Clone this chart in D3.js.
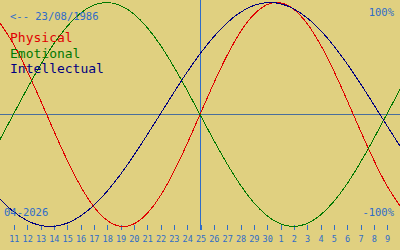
<!DOCTYPE html>
<html>
<head>
<meta charset="utf-8">
<script src="https://cdn.jsdelivr.net/npm/d3@7"></script>
<style>
  body { margin: 0; background: #e0d080; }
  svg { display: block; }
  text { font-family: "DejaVu Sans Mono", monospace; }
</style>
</head>
<body>
<svg id="chart" width="400" height="250"></svg>
<script>
/* Biorhythm view: one month around the selected day (25/04/2026).
   Values are per day, from 15 days before to 15 days after the centre. */

const WIDTH = 400;
const HEIGHT = 250;

const birthLabel = '<-- 23/08/1986';
const monthLabel = '04-2026';

// day offsets relative to the centre date
const dayOffsets = d3.range(-15, 16);

// day-of-month labels for the ticks at offsets -14 .. 14
const tickLabels = ['11', '12', '13', '14', '15', '16', '17', '18', '19', '20',
  '21', '22', '23', '24', '25', '26', '27', '28', '29', '30',
  '1', '2', '3', '4', '5', '6', '7', '8', '9'];

const physical = [0.817, 0.631, 0.398, 0.136, -0.136, -0.398, -0.631, -0.817,
  -0.942, -0.998, -0.979, -0.888, -0.731, -0.520, -0.270, 0,
  0.270, 0.520, 0.731, 0.888, 0.979, 0.998, 0.942, 0.817,
  0.631, 0.398, 0.136, -0.136, -0.398, -0.631, -0.817];

const emotional = [-0.223, 0, 0.223, 0.434, 0.624, 0.782, 0.901, 0.975,
  1, 0.975, 0.901, 0.782, 0.624, 0.434, 0.223, 0,
  -0.223, -0.434, -0.624, -0.782, -0.901, -0.975, -1, -0.975,
  -0.901, -0.782, -0.624, -0.434, -0.223, 0, 0.223];

const intellectual = [-0.756, -0.866, -0.945, -0.990, -0.999, -0.972, -0.910, -0.815,
  -0.690, -0.541, -0.372, -0.189, 0, 0.189, 0.372, 0.541,
  0.690, 0.815, 0.910, 0.972, 0.999, 0.990, 0.945, 0.866,
  0.756, 0.618, 0.458, 0.282, 0.095, -0.095, -0.282];

const seriesNames = ['Physical', 'Emotional', 'Intellectual'];
const seriesValues = [physical, emotional, intellectual];

const colors = {
  background: '#e0d080',
  axis: '#2f6cc8',
  midline: '#4a6e9c',
  series: ['#e00000', '#007800', '#000080'],
};

const svg = d3.select('#chart');

svg.append('rect')
  .attr('width', WIDTH)
  .attr('height', HEIGHT)
  .attr('fill', colors.background);

const x = d3.scaleLinear().domain([-15, 15]).range([0, WIDTH]);
const y = d3.scaleLinear().domain([-1, 1]).range([226.5, 2.5]);

// horizontal zero line and the vertical "today" line
svg.append('line')
  .attr('x1', 0).attr('x2', WIDTH)
  .attr('y1', y(0)).attr('y2', y(0))
  .attr('stroke', colors.midline)
  .attr('shape-rendering', 'crispEdges');

svg.append('line')
  .attr('x1', x(0) + 0.5).attr('x2', x(0) + 0.5)
  .attr('y1', 0).attr('y2', 230)
  .attr('stroke', colors.axis)
  .attr('shape-rendering', 'crispEdges');

// day ticks along the bottom
const tickOffsets = d3.range(-14, 15);
const axis = d3.axisBottom(x)
  .tickValues(tickOffsets)
  .tickFormat((d, i) => tickLabels[i])
  .tickSize(5)
  .tickPadding(6);

const axisG = svg.append('g')
  .attr('transform', 'translate(0.5,225)')
  .call(axis);
axisG.select('.domain').remove();
axisG.selectAll('line')
  .attr('stroke', colors.axis)
  .attr('shape-rendering', 'crispEdges');
axisG.selectAll('text')
  .attr('fill', colors.axis)
  .attr('font-size', 8.5)
  .attr('font-family', '"DejaVu Sans Mono", monospace');

// the three curves
const line = d3.line()
  .x((d, i) => x(dayOffsets[i]))
  .y((d) => y(d))
  .curve(d3.curveNatural);

svg.selectAll('path.curve')
  .data(seriesValues)
  .join('path')
  .attr('class', 'curve')
  .attr('d', line)
  .attr('fill', 'none')
  .attr('stroke', (d, i) => colors.series[i])
  .attr('stroke-width', 1)
  .attr('shape-rendering', 'crispEdges');

// labels
svg.append('text')
  .attr('x', 10).attr('y', 20)
  .attr('font-size', 10.5)
  .attr('fill', colors.axis)
  .text(birthLabel);

svg.append('text')
  .attr('x', 394).attr('y', 16)
  .attr('text-anchor', 'end')
  .attr('font-size', 10.5)
  .attr('fill', colors.axis)
  .text('100%');

svg.append('text')
  .attr('x', 394).attr('y', 216)
  .attr('text-anchor', 'end')
  .attr('font-size', 10.5)
  .attr('fill', colors.axis)
  .text('-100%');

svg.append('text')
  .attr('x', 4).attr('y', 216)
  .attr('font-size', 10.5)
  .attr('fill', colors.axis)
  .text(monthLabel);

svg.selectAll('text.legend')
  .data(seriesNames)
  .join('text')
  .attr('class', 'legend')
  .attr('x', 10)
  .attr('y', (d, i) => 42 + i * 15.5)
  .attr('font-size', 13)
  .attr('fill', (d, i) => colors.series[i])
  .text((d) => d);
</script>
</body>
</html>
